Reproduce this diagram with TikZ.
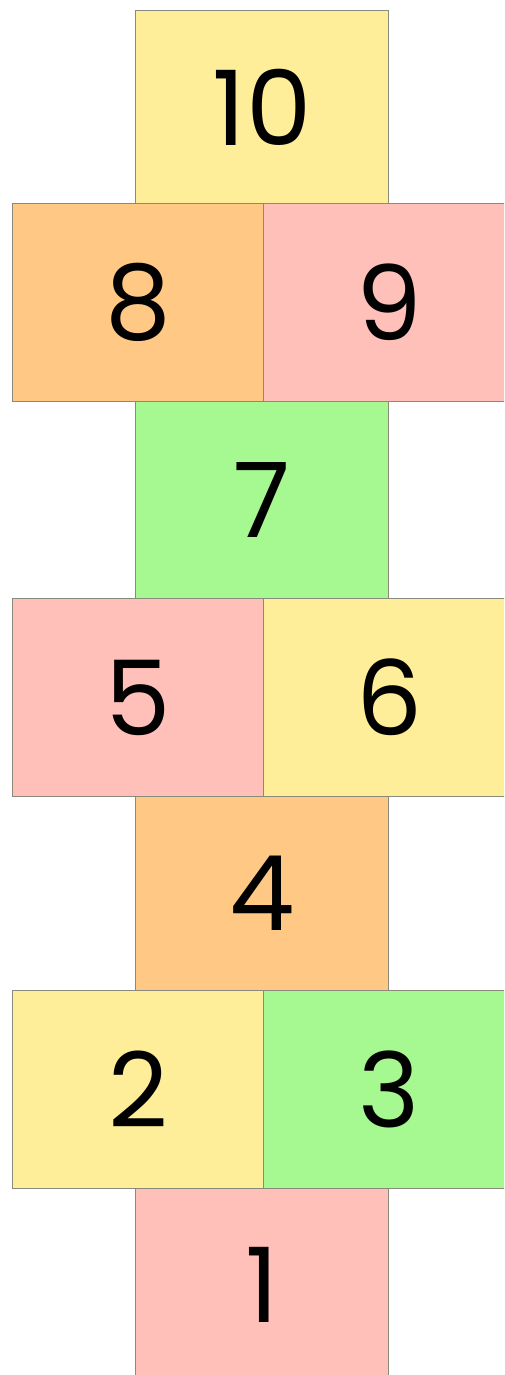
\documentclass[tikz,border=0pt]{standalone}
\usepackage{fontspec}
\setmainfont{Poppins}
\definecolor{cyellow}{HTML}{FFEE99}
\definecolor{corange}{HTML}{FFC885}
\definecolor{cpink}{HTML}{FFC0BA}
\definecolor{cgreen}{HTML}{A6F890}
\definecolor{cborder}{HTML}{8A8A7A}
\tikzset{
  cell/.style={draw=cborder, line width=1.4pt, anchor=north west, inner sep=0pt,
    font=\fontsize{104}{104}\selectfont, text=black},
  single/.style={cell, minimum width=253pt, minimum height=#1},
  double/.style={cell, minimum width=251pt, minimum height=#1},
}
\begin{document}
\begin{tikzpicture}[x=1pt,y=-1pt]
\useasboundingbox (0,0) rectangle (504,1375);
\clip (0,0) rectangle (504,1375);
\fill[white] (0,0) rectangle (504,1375);
\node[single=193pt, fill=cyellow] (n10) at (135,10) {10};
\node[single=197pt, fill=cgreen] (n7) at (135,401) {7};
\node[single=194pt, fill=corange] (n4) at (135,796) {4};
\node[single=192pt, fill=cpink] (n1) at (135,1188) {1};
\node[double=198pt, fill=corange] (n8) at (12,203) {8};
\node[double=198pt, fill=cpink] (n9) at (263,203) {9};
\node[double=198pt, fill=cpink] (n5) at (12,598) {5};
\node[double=198pt, fill=cyellow] (n6) at (263,598) {6};
\node[double=198pt, fill=cyellow] (n2) at (12,990) {2};
\node[double=198pt, fill=cgreen] (n3) at (263,990) {3};
\end{tikzpicture}
\end{document}
